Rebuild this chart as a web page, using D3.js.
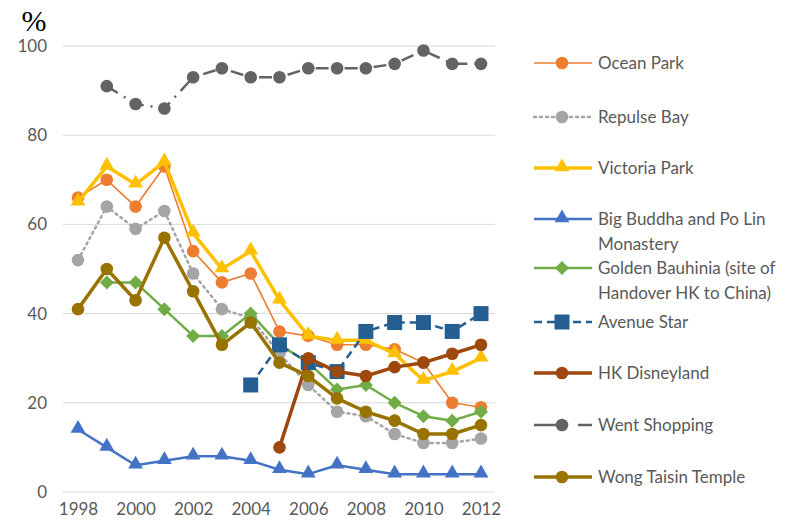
<!DOCTYPE html>
<html>
<head>
<meta charset="utf-8">
<script src="https://cdn.jsdelivr.net/npm/d3@7"></script>
<style>
  body { margin: 0; background: #fff; }
  svg text { font-family: Lato, "Open Sans", sans-serif; fill: #595959; }
</style>
</head>
<body>
<svg id="chart"></svg>
<script>
// years on the x axis
var years = [1998, 1999, 2000, 2001, 2002, 2003, 2004, 2005, 2006, 2007, 2008, 2009, 2010, 2011, 2012];
var yearTicks = [1998, 2000, 2002, 2004, 2006, 2008, 2010, 2012];
var valueTicks = [0, 20, 40, 60, 80, 100];

// series values (%), null = no data
var oceanPark      = [66, 70, 64, 73, 54, 47, 49, 36, 35, 33, 33, 32, 29, 20, 19];
var repulseBay     = [52, 64, 59, 63, 49, 41, 39, 31, 24, 18, 17, 13, 11, 11, 12];
var victoriaPark   = [65, 73, 69, 74, 58, 50, 54, 43, 35, 34, 34, 31, 25, 27, 30];
var bigBuddha      = [14, 10, 6, 7, 8, 8, 7, 5, 4, 6, 5, 4, 4, 4, 4];
var goldenBauhinia = [null, 47, 47, 41, 35, 35, 40, 33, 29, 23, 24, 20, 17, 16, 18];
var avenueStar     = [null, null, null, null, null, null, 24, 33, 29, 27, 36, 38, 38, 36, 40];
var hkDisneyland   = [null, null, null, null, null, null, null, 10, 30, 27, 26, 28, 29, 31, 33];
var wentShopping   = [null, 91, 87, 86, 93, 95, 93, 93, 95, 95, 95, 96, 99, 96, 96];
var wongTaiSin     = [41, 50, 43, 57, 45, 33, 38, 29, 26, 21, 18, 16, 13, 13, 15];

var seriesNames = ["Ocean Park", "Repulse Bay", "Victoria Park", "Big Buddha and Po Lin Monastery",
  "Golden Bauhinia (site of Handover HK to China)", "Avenue Star", "HK Disneyland", "Went Shopping", "Wong Taisin Temple"];

// drawing styles for each series
var styles = [
  {values: oceanPark,      color: "#ED7D31", width: 1.6, dash: null,          marker: "circle"},
  {values: repulseBay,     color: "#A5A5A5", width: 2.5, dash: "2,4",         marker: "circle"},
  {values: victoriaPark,   color: "#FFC000", width: 3.5, dash: null,          marker: "triangle"},
  {values: bigBuddha,      color: "#4472C4", width: 2.5, dash: null,          marker: "triangle"},
  {values: goldenBauhinia, color: "#70AD47", width: 2.5, dash: null,          marker: "diamond"},
  {values: avenueStar,     color: "#255E91", width: 2.5, dash: "8,5",         marker: "square"},
  {values: hkDisneyland,   color: "#9E480E", width: 3.5, dash: null,          marker: "circle"},
  {values: wentShopping,   color: "#636363", width: 2.5, dash: "13,7,2,7",    marker: "circle"},
  {values: wongTaiSin,     color: "#997300", width: 3.5, dash: null,          marker: "circle"}
];

var width = 794, height = 523;
var svg = d3.select("#chart").attr("width", width).attr("height", height);

var x = d3.scaleLinear().domain([1998, 2012]).range([78, 481]);
var y = d3.scaleLinear().domain([0, 100]).range([492, 46]);

// gridlines
svg.append("g")
   .selectAll("line")
   .data(valueTicks)
   .enter()
   .append("line")
   .attr("x1", 63).attr("x2", 495)
   .attr("y1", function(d){ return y(d); })
   .attr("y2", function(d){ return y(d); })
   .attr("stroke", "#D9D9D9")
   .attr("stroke-width", 1);

// y axis labels
var yAxis = svg.append("g")
   .attr("transform", "translate(53,0)")
   .call(d3.axisLeft(y).tickValues(valueTicks).tickSize(0).tickPadding(0));
yAxis.select(".domain").remove();
yAxis.selectAll("text").style("font-size", "17px").attr("fill", "#595959").attr("dx", "-6");

// x axis labels
var xAxis = svg.append("g")
   .attr("transform", "translate(0,503)")
   .call(d3.axisBottom(x).tickValues(yearTicks).tickFormat(d3.format("d")).tickSize(0).tickPadding(0));
xAxis.select(".domain").remove();
xAxis.selectAll("text").style("font-size", "17px").attr("fill", "#595959");

// % unit label
svg.append("text")
   .attr("x", 34).attr("y", 31)
   .attr("text-anchor", "middle")
   .style("font-family", "'Liberation Serif', 'DejaVu Serif', serif")
   .style("font-size", "30px")
   .style("fill", "#000")
   .text("%");

function drawMarker(g, type, cx, cy, color) {
    if (type === "circle") {
        g.append("circle").attr("cx", cx).attr("cy", cy).attr("r", 6.3).attr("fill", color);
    } else if (type === "triangle") {
        g.append("path").attr("d", d3.symbol().type(d3.symbolTriangle).size(95)())
         .attr("transform", "translate(" + cx + "," + (cy - 1) + ")").attr("fill", color);
    } else if (type === "diamond") {
        g.append("path").attr("d", "M0,-7L7,0L0,7L-7,0Z")
         .attr("transform", "translate(" + cx + "," + cy + ")").attr("fill", color);
    } else if (type === "square") {
        g.append("rect").attr("x", cx - 7.5).attr("y", cy - 7.5).attr("width", 15).attr("height", 15).attr("fill", color);
    }
}

var line = d3.line()
    .defined(function(d){ return d.v !== null; })
    .x(function(d){ return x(d.year); })
    .y(function(d){ return y(d.v); });

styles.forEach(function(s){
    var pts = years.map(function(yr, i){ return {year: yr, v: s.values[i]}; });
    var g = svg.append("g");
    g.append("path")
     .attr("d", line(pts))
     .attr("fill", "none")
     .attr("stroke", s.color)
     .attr("stroke-width", s.width)
     .attr("stroke-linejoin", "round")
     .attr("stroke-linecap", s.dash === "2,4" ? "round" : "butt")
     .attr("stroke-dasharray", s.dash);
    pts.forEach(function(p){
        if (p.v !== null) drawMarker(g, s.marker, x(p.year), y(p.v), s.color);
    });
});

// legend
var legendY = [63, 117, 168, 219, 268, 322, 373, 425, 477];
var legendLines = [["Ocean Park"], ["Repulse Bay"], ["Victoria Park"], ["Big Buddha and Po Lin", "Monastery"],
  ["Golden Bauhinia (site of", "Handover HK to China)"], ["Avenue Star"], ["HK Disneyland"], ["Went Shopping"], ["Wong Taisin Temple"]];

styles.forEach(function(s, i){
    var ly = legendY[i];
    var g = svg.append("g");
    g.append("line")
     .attr("x1", 534).attr("x2", 592).attr("y1", ly).attr("y2", ly)
     .attr("stroke", s.color)
     .attr("stroke-width", s.width)
     .attr("stroke-linecap", s.dash === "2,4" ? "round" : "butt")
     .attr("stroke-dasharray", s.marker === "circle" && s.dash === "13,7,2,7" ? "28,8,0,8,30" : s.dash);
    drawMarker(g, s.marker, 562, ly, s.color);
    var t = g.append("text").attr("x", 598).attr("y", ly + 6).style("font-size", "17px");
    legendLines[i].forEach(function(txt, k){
        t.append("tspan").attr("x", 598).attr("dy", k === 0 ? 0 : 25).text(txt);
    });
});
</script>
</body>
</html>
